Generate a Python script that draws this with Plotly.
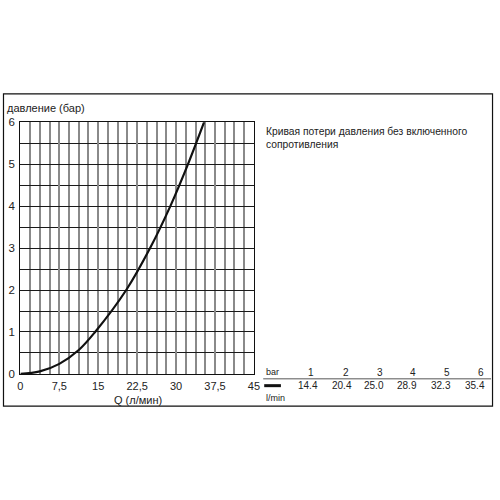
import plotly.graph_objects as go

pressure_bar = [0, 0.06, 0.24, 0.57, 1, 2, 3, 4, 5, 6]
flow_lmin = [0, 3.75, 7.5, 11.25, 14.4, 20.4, 25.0, 28.9, 32.3, 35.4]

table_bar = ["1", "2", "3", "4", "5", "6"]
table_flow = ["14.4", "20.4", "25.0", "28.9", "32.3", "35.4"]

x_tickvals = [0, 7.5, 15, 22.5, 30, 37.5, 45]
x_ticktext = ["0", "7,5", "15", "22,5", "30", "37,5", "45"]
y_tickvals = [0, 1, 2, 3, 4, 5, 6]

title_text = "Кривая потери давления без включенного<br>сопротивления"
y_label = "давление (бар)"
x_label = "Q (л/мин)"

W = H = 500
def px(x):
    return x / W
def py(y):
    return 1 - y / H

FONT = "Liberation Sans, Arial, sans-serif"
TXT = "#222222"

fig = go.Figure()
fig.add_trace(go.Scatter(
    x=flow_lmin, y=pressure_bar, mode="lines",
    line=dict(color="#111111", width=2.2, shape="spline", smoothing=1.0),
    hoverinfo="skip", showlegend=False,
))

fig.update_layout(
    width=W, height=H, autosize=False,
    margin=dict(l=0, r=0, t=0, b=0),
    paper_bgcolor="white", plot_bgcolor="white",
    font=dict(family=FONT, size=11, color=TXT),
    xaxis=dict(
        domain=[px(17.7), px(255.5)], range=[0, 45],
        tickvals=x_tickvals, ticktext=x_ticktext,
        showgrid=True, gridcolor="#8a8a8a", gridwidth=1.6,
        minor=dict(dtick=1.875, showgrid=True, gridcolor="#8a8a8a", gridwidth=1.6, tick0=0),
        showline=True, linecolor="#111111", linewidth=1.2, mirror=True,
        ticks="", ticklen=0, zeroline=False, fixedrange=True,
        ticklabelstandoff=2,
        tickfont=dict(family=FONT, size=11, color=TXT),
    ),
    yaxis=dict(
        domain=[py(377), py(119)], range=[0, 6],
        tickvals=y_tickvals,
        showgrid=True, gridcolor="#1a1a1a", gridwidth=1.3,
        minor=dict(dtick=0.5, showgrid=True, gridcolor="#1a1a1a", gridwidth=1.3, tick0=0),
        showline=True, linecolor="#111111", linewidth=1.2, mirror=True,
        ticks="", ticklen=0, zeroline=False, fixedrange=True,
        ticklabelstandoff=2,
        tickfont=dict(family=FONT, size=11.5, color=TXT),
    ),
)

anns = []
anns.append(dict(x=px(2), y=py(104), xref="paper", yref="paper", text=y_label,
                 showarrow=False, xanchor="left", yanchor="middle",
                 font=dict(size=11, color=TXT)))
anns.append(dict(x=px(137), y=py(404), xref="paper", yref="paper", text=x_label,
                 showarrow=False, xanchor="center", yanchor="middle",
                 font=dict(size=11, color=TXT)))
anns.append(dict(x=px(266), y=py(135), xref="paper", yref="paper", text=title_text,
                 showarrow=False, xanchor="left", yanchor="middle", align="left",
                 font=dict(size=10.3, color=TXT)))
# Table
anns.append(dict(x=px(266), y=py(375), xref="paper", yref="paper", text="bar",
                 showarrow=False, xanchor="left", yanchor="middle",
                 font=dict(size=9, color=TXT)))
anns.append(dict(x=px(266), y=py(402), xref="paper", yref="paper", text="l/min",
                 showarrow=False, xanchor="left", yanchor="middle",
                 font=dict(size=9, color=TXT)))
bar_x = [319, 354, 389, 423, 457, 492]
flow_x = [323, 357, 390, 424, 458, 493]
for i in range(len(table_bar)):
    anns.append(dict(x=px(bar_x[i]), y=py(375), xref="paper", yref="paper", text=table_bar[i],
                     showarrow=False, xanchor="right", yanchor="middle",
                     font=dict(size=10, color=TXT)))
    anns.append(dict(x=px(flow_x[i]), y=py(389), xref="paper", yref="paper", text=table_flow[i],
                     showarrow=False, xanchor="right", yanchor="middle",
                     font=dict(size=10, color=TXT)))
fig.update_layout(annotations=anns)

shapes = [
    dict(type="rect", xref="paper", yref="paper", x0=px(0.5), x1=px(498.5), y0=py(410), y1=py(90),
         line=dict(color="#111111", width=1.2)),
    dict(type="line", xref="paper", yref="paper", x0=px(265), x1=px(497), y0=py(382), y1=py(382),
         line=dict(color="#555555", width=1)),
    dict(type="line", xref="paper", yref="paper", x0=px(266), x1=px(283), y0=py(389), y1=py(389),
         line=dict(color="#111111", width=3)),
]
fig.update_layout(shapes=shapes)

fig.write_html("out.html", config={"displayModeBar": False},
               post_script="document.body.style.margin='0';document.body.style.overflow='hidden';")
